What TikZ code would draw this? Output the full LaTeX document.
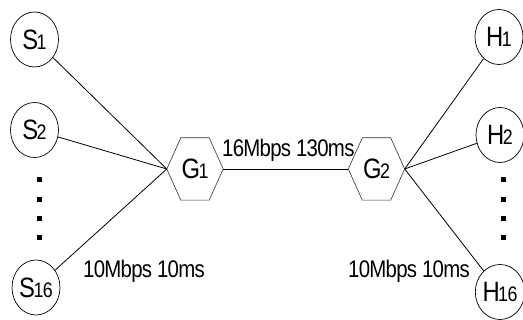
\documentclass[tikz,border=0pt]{standalone}
\usepackage{fontspec}
\newfontfamily\condfont[FakeStretch=0.85,LetterSpace=-3]{Liberation Sans}
\newcommand\idx[1]{\kern-1.5pt{\fontsize{21}{21}\selectfont #1}}
\usetikzlibrary{shapes.geometric}
\begin{document}
\begin{tikzpicture}[x=1pt,y=-1pt,
  host/.style={ellipse,draw,line width=0.7pt,inner sep=0pt,minimum width=48pt,minimum height=55pt,
    font=\condfont\fontsize{28}{28}\selectfont},
  gw/.style={rectangle,inner sep=0pt,minimum width=56pt,minimum height=62pt,
    font=\condfont\fontsize{28}{28}\selectfont},
  hexline/.style={draw=black!80,line width=0.6pt},
  link/.style={line width=0.8pt},
  rate/.style={inner sep=0pt,anchor=base west,font=\condfont\fontsize{24}{24}\selectfont},
  dot/.style={fill=black}]
\useasboundingbox (0,0) rectangle (523,320);

% end hosts on the left
\node[host] (S1)  at (34.5,39.5) {S\idx{1}};
\node[host] (S2)  at (34.5,130)  {S\idx{2}};
\node[host] (S16) at (36,287.5)  {S\idx{16}};

% end hosts on the right
\node[host] (H1)  at (499,37)  {H\idx{1}};
\node[host] (H2)  at (500,135) {H\idx{2}};
\node[host] (H16) at (500,292) {H\idx{16}};

% gateways
\node[gw] (G1) at (195,169)   {G\idx{1}};
\node[gw] (G2) at (376.5,169) {G\idx{2}};
\foreach \g in {G1,G2}{
  \draw[hexline] (\g.west) -- ([xshift=14pt]\g.north west) -- ([xshift=-14pt]\g.north east)
    -- (\g.east) -- ([xshift=-14pt]\g.south east) -- ([xshift=14pt]\g.south west) -- cycle;
}

% vertical ellipsis between hosts
\foreach \y in {180,200,219,238}{
  \fill[dot] (36.5,\y-2.5) rectangle ++(5,5);
  \fill[dot] (500.5,\y-2.5) rectangle ++(5,5);
}

% links
\foreach \s in {S1,S2,S16} \draw[link] (\s) -- (G1.west);
\foreach \h in {H1,H2,H16} \draw[link] (G2.east) -- (\h);
\draw[link] (G1.east) -- (G2.west);

% link labels
\node[rate] (Lb) at (222,157) {16Mbps 130ms};
\node[rate] (La) at (83,278)  {10Mbps 10ms};
\node[rate] (Lc) at (348,278) {10Mbps 10ms};
\end{tikzpicture}
\end{document}
